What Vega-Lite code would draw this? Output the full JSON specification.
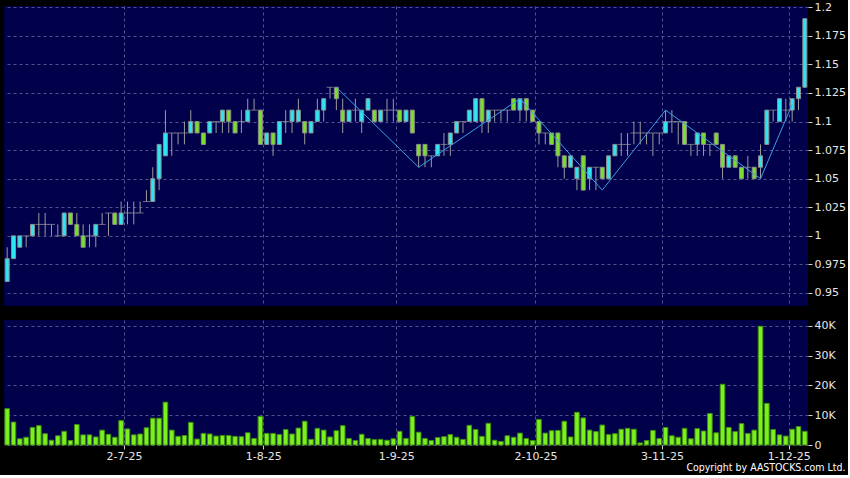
{
  "$schema": "https://vega.github.io/schema/vega-lite/v6.json",
  "background": "#000000",
  "padding": {"left": 4, "top": 1, "right": 2, "bottom": 1},
  "config": {
    "view": {"fill": "#00004b", "stroke": null},
    "font": "DejaVu Sans",
    "axis": {"labelFont": "DejaVu Sans", "labelFontSize": 11, "labelColor": "#e6e6e6", "gridColor": "#52528f", "gridDash": [3, 3], "gridWidth": 1, "domain": false, "tickColor": "#cfcfcf", "title": null, "labelOverlap": false}
  },
  "title": {"text": "Copyright by AASTOCKS.com Ltd.", "orient": "bottom", "anchor": "end", "frame": "bounds", "color": "#ffffff", "font": "DejaVu Sans Condensed", "fontSize": 10.5, "fontWeight": "normal", "offset": 2},
  "datasets": {
    "px": [
      {"d":"4-6-25","o":0.96,"h":0.99,"l":0.96,"c":0.98,"v":12200},
      {"d":"5-6-25","o":0.98,"h":1.00,"l":0.98,"c":1.00,"v":7700},
      {"d":"6-6-25","o":0.99,"h":1.00,"l":0.99,"c":1.00,"v":2100},
      {"d":"9-6-25","o":1.00,"h":1.00,"l":0.99,"c":1.00,"v":2600},
      {"d":"10-6-25","o":1.00,"h":1.01,"l":1.00,"c":1.01,"v":5900},
      {"d":"11-6-25","o":1.01,"h":1.02,"l":1.00,"c":1.01,"v":6500},
      {"d":"12-6-25","o":1.01,"h":1.02,"l":1.00,"c":1.01,"v":3800},
      {"d":"13-6-25","o":1.01,"h":1.01,"l":1.00,"c":1.01,"v":1600},
      {"d":"16-6-25","o":1.00,"h":1.01,"l":1.00,"c":1.00,"v":3100},
      {"d":"17-6-25","o":1.00,"h":1.02,"l":1.00,"c":1.02,"v":4600},
      {"d":"18-6-25","o":1.02,"h":1.02,"l":1.01,"c":1.01,"v":1500},
      {"d":"19-6-25","o":1.01,"h":1.02,"l":1.00,"c":1.00,"v":6900},
      {"d":"20-6-25","o":1.00,"h":1.01,"l":0.99,"c":0.99,"v":3400},
      {"d":"23-6-25","o":1.00,"h":1.01,"l":0.99,"c":1.00,"v":3400},
      {"d":"24-6-25","o":1.00,"h":1.01,"l":0.99,"c":1.01,"v":2700},
      {"d":"25-6-25","o":1.01,"h":1.02,"l":1.01,"c":1.01,"v":5000},
      {"d":"26-6-25","o":1.02,"h":1.02,"l":1.00,"c":1.02,"v":3600},
      {"d":"27-6-25","o":1.02,"h":1.02,"l":1.01,"c":1.01,"v":2600},
      {"d":"30-6-25","o":1.01,"h":1.03,"l":1.01,"c":1.02,"v":8200},
      {"d":"2-7-25","o":1.02,"h":1.03,"l":1.01,"c":1.02,"v":5400},
      {"d":"3-7-25","o":1.02,"h":1.03,"l":1.01,"c":1.02,"v":3400},
      {"d":"4-7-25","o":1.02,"h":1.03,"l":1.02,"c":1.02,"v":3700},
      {"d":"7-7-25","o":1.03,"h":1.04,"l":1.03,"c":1.03,"v":5800},
      {"d":"8-7-25","o":1.03,"h":1.06,"l":1.03,"c":1.05,"v":9000},
      {"d":"9-7-25","o":1.05,"h":1.08,"l":1.04,"c":1.08,"v":9000},
      {"d":"10-7-25","o":1.07,"h":1.11,"l":1.07,"c":1.09,"v":14400},
      {"d":"11-7-25","o":1.09,"h":1.09,"l":1.07,"c":1.09,"v":5000},
      {"d":"14-7-25","o":1.09,"h":1.09,"l":1.08,"c":1.09,"v":2900},
      {"d":"15-7-25","o":1.09,"h":1.10,"l":1.08,"c":1.09,"v":3200},
      {"d":"16-7-25","o":1.09,"h":1.11,"l":1.09,"c":1.10,"v":7600},
      {"d":"17-7-25","o":1.10,"h":1.10,"l":1.09,"c":1.09,"v":2000},
      {"d":"18-7-25","o":1.09,"h":1.09,"l":1.08,"c":1.08,"v":3900},
      {"d":"21-7-25","o":1.09,"h":1.10,"l":1.09,"c":1.10,"v":3700},
      {"d":"22-7-25","o":1.10,"h":1.10,"l":1.09,"c":1.10,"v":3000},
      {"d":"23-7-25","o":1.10,"h":1.11,"l":1.09,"c":1.11,"v":3200},
      {"d":"24-7-25","o":1.11,"h":1.11,"l":1.09,"c":1.10,"v":3200},
      {"d":"25-7-25","o":1.10,"h":1.10,"l":1.09,"c":1.09,"v":2900},
      {"d":"28-7-25","o":1.10,"h":1.11,"l":1.09,"c":1.10,"v":2800},
      {"d":"29-7-25","o":1.10,"h":1.12,"l":1.10,"c":1.11,"v":4100},
      {"d":"30-7-25","o":1.11,"h":1.12,"l":1.11,"c":1.11,"v":2200},
      {"d":"31-7-25","o":1.11,"h":1.11,"l":1.08,"c":1.08,"v":9600},
      {"d":"1-8-25","o":1.08,"h":1.09,"l":1.08,"c":1.09,"v":3900},
      {"d":"4-8-25","o":1.09,"h":1.09,"l":1.07,"c":1.08,"v":3900},
      {"d":"5-8-25","o":1.08,"h":1.10,"l":1.08,"c":1.10,"v":3500},
      {"d":"6-8-25","o":1.10,"h":1.11,"l":1.09,"c":1.10,"v":5200},
      {"d":"7-8-25","o":1.10,"h":1.11,"l":1.09,"c":1.11,"v":3700},
      {"d":"8-8-25","o":1.10,"h":1.12,"l":1.10,"c":1.11,"v":5700},
      {"d":"11-8-25","o":1.10,"h":1.10,"l":1.08,"c":1.09,"v":8000},
      {"d":"12-8-25","o":1.09,"h":1.10,"l":1.09,"c":1.10,"v":1900},
      {"d":"13-8-25","o":1.10,"h":1.12,"l":1.10,"c":1.11,"v":5600},
      {"d":"14-8-25","o":1.11,"h":1.12,"l":1.10,"c":1.12,"v":5000},
      {"d":"15-8-25","o":1.13,"h":1.13,"l":1.12,"c":1.13,"v":2700},
      {"d":"18-8-25","o":1.13,"h":1.13,"l":1.11,"c":1.12,"v":4800},
      {"d":"19-8-25","o":1.11,"h":1.12,"l":1.09,"c":1.10,"v":6500},
      {"d":"20-8-25","o":1.10,"h":1.11,"l":1.10,"c":1.11,"v":2200},
      {"d":"21-8-25","o":1.11,"h":1.12,"l":1.10,"c":1.11,"v":1500},
      {"d":"22-8-25","o":1.10,"h":1.11,"l":1.09,"c":1.11,"v":3600},
      {"d":"25-8-25","o":1.11,"h":1.12,"l":1.11,"c":1.12,"v":2200},
      {"d":"26-8-25","o":1.11,"h":1.11,"l":1.10,"c":1.10,"v":1800},
      {"d":"27-8-25","o":1.10,"h":1.11,"l":1.10,"c":1.11,"v":1900},
      {"d":"28-8-25","o":1.11,"h":1.12,"l":1.10,"c":1.11,"v":1600},
      {"d":"29-8-25","o":1.11,"h":1.12,"l":1.10,"c":1.11,"v":2100},
      {"d":"1-9-25","o":1.11,"h":1.11,"l":1.10,"c":1.10,"v":4600},
      {"d":"2-9-25","o":1.10,"h":1.11,"l":1.10,"c":1.11,"v":2200},
      {"d":"3-9-25","o":1.11,"h":1.11,"l":1.09,"c":1.09,"v":9600},
      {"d":"4-9-25","o":1.08,"h":1.08,"l":1.06,"c":1.07,"v":4300},
      {"d":"5-9-25","o":1.08,"h":1.08,"l":1.06,"c":1.07,"v":2200},
      {"d":"8-9-25","o":1.07,"h":1.07,"l":1.06,"c":1.07,"v":1500},
      {"d":"9-9-25","o":1.07,"h":1.08,"l":1.07,"c":1.08,"v":2500},
      {"d":"10-9-25","o":1.08,"h":1.09,"l":1.07,"c":1.08,"v":2800},
      {"d":"11-9-25","o":1.08,"h":1.09,"l":1.07,"c":1.09,"v":3500},
      {"d":"12-9-25","o":1.09,"h":1.10,"l":1.09,"c":1.10,"v":2600},
      {"d":"15-9-25","o":1.10,"h":1.10,"l":1.09,"c":1.10,"v":1900},
      {"d":"16-9-25","o":1.10,"h":1.11,"l":1.10,"c":1.11,"v":6600},
      {"d":"17-9-25","o":1.10,"h":1.12,"l":1.10,"c":1.12,"v":5200},
      {"d":"18-9-25","o":1.12,"h":1.12,"l":1.09,"c":1.10,"v":2900},
      {"d":"19-9-25","o":1.10,"h":1.11,"l":1.09,"c":1.11,"v":7300},
      {"d":"22-9-25","o":1.11,"h":1.11,"l":1.10,"c":1.11,"v":1600},
      {"d":"23-9-25","o":1.11,"h":1.11,"l":1.10,"c":1.11,"v":1200},
      {"d":"24-9-25","o":1.11,"h":1.11,"l":1.10,"c":1.11,"v":3100},
      {"d":"25-9-25","o":1.12,"h":1.12,"l":1.11,"c":1.11,"v":2600},
      {"d":"26-9-25","o":1.11,"h":1.12,"l":1.10,"c":1.12,"v":4000},
      {"d":"29-9-25","o":1.12,"h":1.12,"l":1.10,"c":1.11,"v":2200},
      {"d":"30-9-25","o":1.11,"h":1.11,"l":1.10,"c":1.10,"v":1500},
      {"d":"2-10-25","o":1.10,"h":1.10,"l":1.08,"c":1.09,"v":8600},
      {"d":"3-10-25","o":1.09,"h":1.09,"l":1.08,"c":1.09,"v":4000},
      {"d":"6-10-25","o":1.09,"h":1.09,"l":1.08,"c":1.08,"v":4800},
      {"d":"8-10-25","o":1.09,"h":1.09,"l":1.06,"c":1.07,"v":4900},
      {"d":"9-10-25","o":1.07,"h":1.07,"l":1.05,"c":1.06,"v":8000},
      {"d":"10-10-25","o":1.06,"h":1.07,"l":1.06,"c":1.07,"v":2700},
      {"d":"13-10-25","o":1.05,"h":1.06,"l":1.04,"c":1.06,"v":11000},
      {"d":"14-10-25","o":1.07,"h":1.07,"l":1.04,"c":1.04,"v":9100},
      {"d":"15-10-25","o":1.05,"h":1.06,"l":1.04,"c":1.06,"v":5000},
      {"d":"16-10-25","o":1.06,"h":1.06,"l":1.04,"c":1.06,"v":4500},
      {"d":"17-10-25","o":1.06,"h":1.06,"l":1.05,"c":1.05,"v":6700},
      {"d":"20-10-25","o":1.05,"h":1.07,"l":1.05,"c":1.07,"v":3500},
      {"d":"21-10-25","o":1.07,"h":1.08,"l":1.07,"c":1.08,"v":3800},
      {"d":"22-10-25","o":1.08,"h":1.09,"l":1.07,"c":1.08,"v":5300},
      {"d":"23-10-25","o":1.08,"h":1.09,"l":1.07,"c":1.08,"v":5600},
      {"d":"24-10-25","o":1.09,"h":1.10,"l":1.08,"c":1.09,"v":5300},
      {"d":"27-10-25","o":1.09,"h":1.10,"l":1.08,"c":1.09,"v":700},
      {"d":"28-10-25","o":1.09,"h":1.09,"l":1.08,"c":1.09,"v":1500},
      {"d":"30-10-25","o":1.09,"h":1.09,"l":1.07,"c":1.09,"v":4900},
      {"d":"31-10-25","o":1.09,"h":1.09,"l":1.08,"c":1.09,"v":2200},
      {"d":"3-11-25","o":1.09,"h":1.11,"l":1.09,"c":1.10,"v":5900},
      {"d":"4-11-25","o":1.10,"h":1.11,"l":1.09,"c":1.10,"v":3100},
      {"d":"5-11-25","o":1.10,"h":1.10,"l":1.08,"c":1.10,"v":2600},
      {"d":"6-11-25","o":1.10,"h":1.10,"l":1.08,"c":1.08,"v":5600},
      {"d":"7-11-25","o":1.08,"h":1.08,"l":1.07,"c":1.08,"v":2100},
      {"d":"10-11-25","o":1.08,"h":1.09,"l":1.07,"c":1.09,"v":5500},
      {"d":"11-11-25","o":1.09,"h":1.09,"l":1.07,"c":1.08,"v":4700},
      {"d":"12-11-25","o":1.08,"h":1.08,"l":1.07,"c":1.08,"v":10600},
      {"d":"13-11-25","o":1.09,"h":1.09,"l":1.08,"c":1.08,"v":4100},
      {"d":"14-11-25","o":1.08,"h":1.08,"l":1.05,"c":1.06,"v":20400},
      {"d":"17-11-25","o":1.06,"h":1.07,"l":1.06,"c":1.07,"v":5900},
      {"d":"18-11-25","o":1.07,"h":1.07,"l":1.06,"c":1.06,"v":4500},
      {"d":"19-11-25","o":1.06,"h":1.06,"l":1.05,"c":1.05,"v":7200},
      {"d":"20-11-25","o":1.06,"h":1.07,"l":1.05,"c":1.06,"v":3900},
      {"d":"21-11-25","o":1.06,"h":1.06,"l":1.05,"c":1.05,"v":5000},
      {"d":"24-11-25","o":1.06,"h":1.08,"l":1.05,"c":1.07,"v":39900},
      {"d":"25-11-25","o":1.08,"h":1.11,"l":1.08,"c":1.11,"v":14000},
      {"d":"26-11-25","o":1.11,"h":1.11,"l":1.10,"c":1.11,"v":5200},
      {"d":"27-11-25","o":1.10,"h":1.12,"l":1.10,"c":1.12,"v":3400},
      {"d":"28-11-25","o":1.11,"h":1.12,"l":1.10,"c":1.11,"v":3000},
      {"d":"1-12-25","o":1.11,"h":1.12,"l":1.10,"c":1.12,"v":5300},
      {"d":"2-12-25","o":1.12,"h":1.13,"l":1.11,"c":1.13,"v":6200},
      {"d":"3-12-25","o":1.13,"h":1.19,"l":1.13,"c":1.19,"v":4600}
    ],
    "zz": [
      {"i":1,"d":"18-8-25","p":1.13},
      {"i":2,"d":"4-9-25","p":1.06},
      {"i":3,"d":"26-9-25","p":1.12},
      {"i":4,"d":"17-10-25","p":1.04},
      {"i":5,"d":"3-11-25","p":1.11},
      {"i":6,"d":"24-11-25","p":1.05},
      {"i":7,"d":"1-12-25","p":1.115}
    ]
  },
  "spacing": 13,
  "vconcat": [
    {
      "width": 804,
      "height": 300,
      "data": {"name": "px"},
      "encoding": {
        "x": {
          "field": "d", "type": "ordinal",
          "scale": {"paddingInner": 0, "paddingOuter": 0, "domain": ["4-6-25","5-6-25","6-6-25","9-6-25","10-6-25","11-6-25","12-6-25","13-6-25","16-6-25","17-6-25","18-6-25","19-6-25","20-6-25","23-6-25","24-6-25","25-6-25","26-6-25","27-6-25","30-6-25","2-7-25","3-7-25","4-7-25","7-7-25","8-7-25","9-7-25","10-7-25","11-7-25","14-7-25","15-7-25","16-7-25","17-7-25","18-7-25","21-7-25","22-7-25","23-7-25","24-7-25","25-7-25","28-7-25","29-7-25","30-7-25","31-7-25","1-8-25","4-8-25","5-8-25","6-8-25","7-8-25","8-8-25","11-8-25","12-8-25","13-8-25","14-8-25","15-8-25","18-8-25","19-8-25","20-8-25","21-8-25","22-8-25","25-8-25","26-8-25","27-8-25","28-8-25","29-8-25","1-9-25","2-9-25","3-9-25","4-9-25","5-9-25","8-9-25","9-9-25","10-9-25","11-9-25","12-9-25","15-9-25","16-9-25","17-9-25","18-9-25","19-9-25","22-9-25","23-9-25","24-9-25","25-9-25","26-9-25","29-9-25","30-9-25","2-10-25","3-10-25","6-10-25","8-10-25","9-10-25","10-10-25","13-10-25","14-10-25","15-10-25","16-10-25","17-10-25","20-10-25","21-10-25","22-10-25","23-10-25","24-10-25","27-10-25","28-10-25","30-10-25","31-10-25","3-11-25","4-11-25","5-11-25","6-11-25","7-11-25","10-11-25","11-11-25","12-11-25","13-11-25","14-11-25","17-11-25","18-11-25","19-11-25","20-11-25","21-11-25","24-11-25","25-11-25","26-11-25","27-11-25","28-11-25","1-12-25","2-12-25","3-12-25"]},
          "axis": {"values": ["2-7-25","1-8-25","1-9-25","2-10-25","3-11-25","1-12-25"], "bandPosition": 0, "labels": false, "ticks": false, "domain": false, "grid": true, "title": null}
        }
      },
      "layer": [
        {
          "mark": {"type": "rule", "color": "#9c9c9c", "strokeWidth": 1},
          "encoding": {
            "y": {"field": "l", "type": "quantitative", "scale": {"domain": [0.9386, 1.2011], "nice": false, "zero": false},
                  "axis": {"orient": "right", "values": [0.95, 0.975, 1, 1.025, 1.05, 1.075, 1.1, 1.125, 1.15, 1.175, 1.2], "tickCount": 40, "format": "~g", "grid": true, "tickSize": 4, "labelPadding": 2, "labelOverlap": false, "title": null}},
            "y2": {"field": "h"}
          }
        },
        {
          "transform": [{"filter": "datum.o == datum.c"}],
          "mark": {"type": "tick", "color": "#9c9c9c", "thickness": 1, "size": 7},
          "encoding": {"y": {"field": "c", "type": "quantitative"}}
        },
        {
          "transform": [{"filter": "datum.o != datum.c"}],
          "mark": {"type": "bar", "width": 4, "stroke": "#8c8c8c", "strokeWidth": 1},
          "encoding": {
            "y": {"field": "o", "type": "quantitative"},
            "y2": {"field": "c"},
            "fill": {"condition": {"test": "datum.c > datum.o", "value": "#2ee6f2"}, "value": "#7ade2a"}
          }
        },
        {
          "data": {"name": "zz"},
          "mark": {"type": "line", "color": "#3a9fe6", "strokeWidth": 1},
          "encoding": {
            "y": {"field": "p", "type": "quantitative"},
            "order": {"field": "i", "type": "quantitative"}
          }
        }
      ]
    },
    {
      "width": 804,
      "height": 125,
      "data": {"name": "px"},
      "mark": {"type": "bar", "width": 4.6, "fill": "#7cf01e", "stroke": "#3e8c10", "strokeWidth": 1},
      "encoding": {
        "x": {
          "field": "d", "type": "ordinal",
          "scale": {"paddingInner": 0, "paddingOuter": 0, "domain": ["4-6-25","5-6-25","6-6-25","9-6-25","10-6-25","11-6-25","12-6-25","13-6-25","16-6-25","17-6-25","18-6-25","19-6-25","20-6-25","23-6-25","24-6-25","25-6-25","26-6-25","27-6-25","30-6-25","2-7-25","3-7-25","4-7-25","7-7-25","8-7-25","9-7-25","10-7-25","11-7-25","14-7-25","15-7-25","16-7-25","17-7-25","18-7-25","21-7-25","22-7-25","23-7-25","24-7-25","25-7-25","28-7-25","29-7-25","30-7-25","31-7-25","1-8-25","4-8-25","5-8-25","6-8-25","7-8-25","8-8-25","11-8-25","12-8-25","13-8-25","14-8-25","15-8-25","18-8-25","19-8-25","20-8-25","21-8-25","22-8-25","25-8-25","26-8-25","27-8-25","28-8-25","29-8-25","1-9-25","2-9-25","3-9-25","4-9-25","5-9-25","8-9-25","9-9-25","10-9-25","11-9-25","12-9-25","15-9-25","16-9-25","17-9-25","18-9-25","19-9-25","22-9-25","23-9-25","24-9-25","25-9-25","26-9-25","29-9-25","30-9-25","2-10-25","3-10-25","6-10-25","8-10-25","9-10-25","10-10-25","13-10-25","14-10-25","15-10-25","16-10-25","17-10-25","20-10-25","21-10-25","22-10-25","23-10-25","24-10-25","27-10-25","28-10-25","30-10-25","31-10-25","3-11-25","4-11-25","5-11-25","6-11-25","7-11-25","10-11-25","11-11-25","12-11-25","13-11-25","14-11-25","17-11-25","18-11-25","19-11-25","20-11-25","21-11-25","24-11-25","25-11-25","26-11-25","27-11-25","28-11-25","1-12-25","2-12-25","3-12-25"]},
          "axis": {"values": ["2-7-25","1-8-25","1-9-25","2-10-25","3-11-25","1-12-25"], "bandPosition": 0, "labelAngle": 0, "labelOffset": -3, "tickSize": 4, "labelPadding": 1, "grid": true, "domain": false, "title": null}
        },
        "y": {"field": "v", "type": "quantitative", "scale": {"domain": [0, 42000], "nice": false},
              "axis": {"orient": "right", "values": [0, 10000, 20000, 30000, 40000], "tickCount": 40, "labelExpr": "datum.value == 0 ? '0' : (datum.value / 1000) + 'K'", "grid": true, "tickSize": 4, "labelPadding": 2, "title": null}}
      }
    }
  ]
}
